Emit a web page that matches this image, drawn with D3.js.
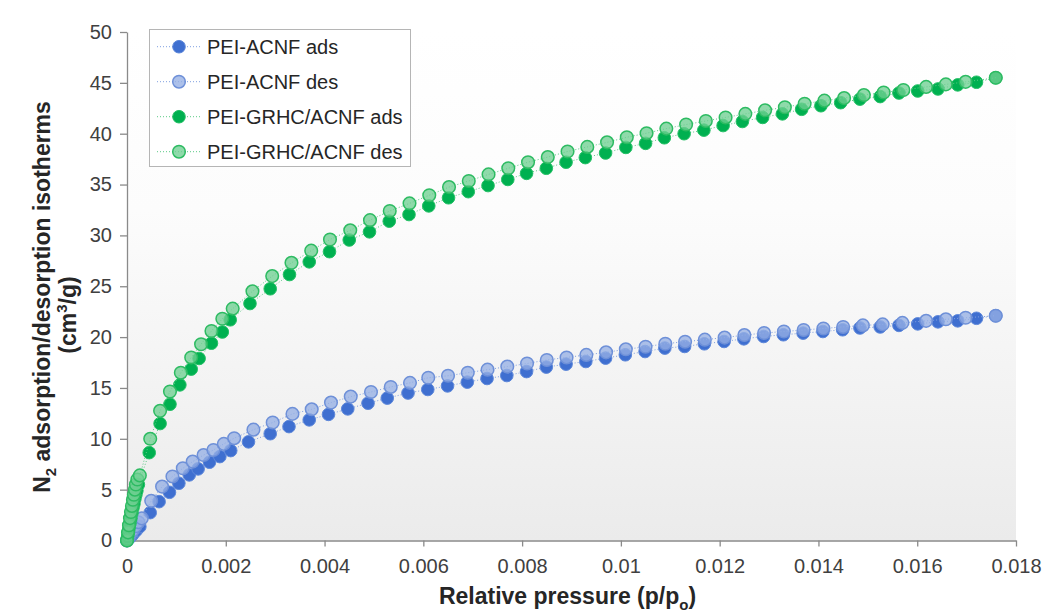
<!DOCTYPE html>
<html>
<head>
<meta charset="utf-8">
<script src="https://cdn.jsdelivr.net/npm/d3@7"></script>
<style>
  body { margin: 0; background: #fff; }
  svg { font-family: "Liberation Sans", Arial, sans-serif; }
</style>
</head>
<body>
<div id="chart"></div>
<script>
// values
const blueAdsP = [0, 0.00003, 0.00006, 0.0001, 0.00014, 0.00019, 0.00026, 0.00047, 0.00065, 0.00086, 0.00105, 0.00126, 0.00144, 0.00167, 0.00188, 0.0021, 0.00246, 0.0029, 0.00328, 0.00369, 0.00408, 0.00447, 0.00488, 0.00527, 0.00569, 0.00609, 0.00649, 0.00689, 0.00729, 0.00769, 0.00809, 0.00849, 0.00889, 0.00929, 0.00969, 0.01009, 0.01049, 0.01089, 0.01129, 0.01169, 0.01209, 0.01249, 0.01289, 0.01329, 0.01369, 0.01409, 0.01449, 0.01484, 0.01525, 0.01563, 0.01601, 0.01642, 0.01682, 0.0172, 0.01759]
const blueAdsV = [0, 0.15, 0.3, 0.5, 0.75, 1.0, 1.36, 2.74, 3.82, 4.74, 5.63, 6.45, 7.04, 7.7, 8.25, 8.84, 9.7, 10.5, 11.2, 11.86, 12.4, 12.94, 13.5, 14.0, 14.5, 14.85, 15.2, 15.57, 15.93, 16.22, 16.61, 17.05, 17.34, 17.6, 17.93, 18.26, 18.58, 18.92, 19.08, 19.34, 19.57, 19.83, 20.06, 20.23, 20.39, 20.55, 20.72, 20.9, 21.0, 21.15, 21.3, 21.5, 21.6, 21.85, 22.1]

const blueDesP = [0, 0.00004, 0.00008, 0.00012, 0.00017, 0.00023, 0.0003, 0.00049, 0.00071, 0.00092, 0.00113, 0.00133, 0.00155, 0.00175, 0.00196, 0.00217, 0.00256, 0.00295, 0.00335, 0.00374, 0.00413, 0.00453, 0.00494, 0.00534, 0.00573, 0.0061, 0.0065, 0.0069, 0.0073, 0.0077, 0.0081, 0.0085, 0.0089, 0.0093, 0.0097, 0.0101, 0.0105, 0.0109, 0.0113, 0.0117, 0.0121, 0.0125, 0.0129, 0.0133, 0.0137, 0.0141, 0.0145, 0.0149, 0.0153, 0.0157, 0.01618, 0.01658, 0.01698, 0.01759]
const blueDesV = [0, 0.35, 0.7, 1.0, 1.4, 1.8, 2.18, 3.9, 5.3, 6.3, 7.1, 7.76, 8.4, 8.9, 9.5, 10.06, 10.9, 11.6, 12.45, 12.9, 13.56, 14.15, 14.6, 15.1, 15.5, 16.0, 16.2, 16.5, 16.8, 17.1, 17.4, 17.75, 18.0, 18.25, 18.5, 18.8, 19.05, 19.35, 19.55, 19.75, 19.95, 20.2, 20.4, 20.55, 20.7, 20.85, 21.0, 21.15, 21.25, 21.4, 21.6, 21.75, 21.9, 22.1]

const greenAdsP = [0, 0.00001, 0.00002, 0.00003, 0.00004, 0.00006, 0.00008, 0.0001, 0.00012, 0.00014, 0.00016, 0.00018, 0.0002, 0.00023, 0.00045, 0.00067, 0.00087, 0.00107, 0.0013, 0.00146, 0.00171, 0.00193, 0.00209, 0.00249, 0.0029, 0.00329, 0.00369, 0.0041, 0.0045, 0.00491, 0.00531, 0.00571, 0.00611, 0.00651, 0.00691, 0.00731, 0.00771, 0.00809, 0.00849, 0.00889, 0.00928, 0.00969, 0.0101, 0.0105, 0.01088, 0.01128, 0.01168, 0.01207, 0.01246, 0.01287, 0.01327, 0.01366, 0.01405, 0.01445, 0.01484, 0.01525, 0.01563, 0.01601, 0.01642, 0.01682, 0.0172, 0.01759]
const greenAdsV = [0, 0.3, 0.6, 0.9, 1.2, 1.7, 2.2, 2.7, 3.2, 3.6, 4.1, 4.5, 4.9, 5.5, 8.64, 11.5, 13.4, 15.3, 16.85, 17.9, 19.4, 20.5, 21.7, 23.3, 24.75, 26.15, 27.4, 28.4, 29.55, 30.35, 31.4, 32.05, 32.9, 33.7, 34.3, 34.9, 35.5, 36.1, 36.6, 37.2, 37.65, 38.1, 38.65, 39.05, 39.6, 40.0, 40.35, 40.8, 41.2, 41.6, 41.95, 42.4, 42.75, 43.05, 43.4, 43.65, 44.0, 44.2, 44.4, 44.8, 45.06, 45.5]

const greenDesP = [0, 0.00002, 0.00004, 0.00006, 0.00008, 0.0001, 0.00012, 0.00014, 0.00016, 0.00018, 0.00021, 0.00026, 0.00047, 0.00067, 0.00087, 0.00109, 0.0013, 0.0015, 0.00171, 0.00193, 0.00214, 0.00254, 0.00294, 0.00333, 0.00373, 0.00411, 0.00452, 0.00492, 0.00532, 0.00572, 0.00612, 0.00652, 0.00692, 0.00732, 0.00772, 0.00812, 0.00852, 0.00892, 0.00932, 0.00972, 0.01012, 0.01052, 0.01092, 0.01132, 0.01172, 0.01212, 0.01252, 0.01292, 0.01332, 0.01372, 0.01412, 0.01452, 0.01492, 0.01532, 0.01572, 0.01618, 0.01658, 0.01698, 0.01759]
const greenDesV = [0, 0.8, 1.5, 2.2, 2.8, 3.4, 4.0, 4.5, 5.0, 5.5, 6.0, 6.4, 10.0, 12.75, 14.65, 16.5, 18.0, 19.3, 20.6, 21.8, 22.8, 24.5, 26.0, 27.3, 28.5, 29.6, 30.5, 31.5, 32.4, 33.15, 33.95, 34.75, 35.35, 36.0, 36.6, 37.2, 37.7, 38.25, 38.7, 39.15, 39.65, 40.05, 40.5, 40.9, 41.25, 41.6, 41.95, 42.3, 42.6, 42.95, 43.25, 43.5, 43.8, 44.05, 44.3, 44.6, 44.85, 45.1, 45.5]

const seriesNames = ["PEI-ACNF ads", "PEI-ACNF des", "PEI-GRHC/ACNF ads", "PEI-GRHC/ACNF des"]

const xTicks = [0, 0.002, 0.004, 0.006, 0.008, 0.01, 0.012, 0.014, 0.016, 0.018]
const xTickLabels = ["0", "0.002", "0.004", "0.006", "0.008", "0.01", "0.012", "0.014", "0.016", "0.018"]
const yTicks = [0, 5, 10, 15, 20, 25, 30, 35, 40, 45, 50]

// styles for each series (Excel-like)
const styles = [
    { fill: "#3F6FD0", stroke: "#5E88DA", sw: 1, line: "#7F9FE0" },
    { fill: "rgba(150,176,228,0.78)", stroke: "#6E90D8", sw: 1.5, line: "#7F9FE0" },
    { fill: "#00B050", stroke: "#25C066", sw: 1, line: "#5CCB86" },
    { fill: "rgba(112,208,146,0.78)", stroke: "#2DBB62", sw: 1.5, line: "#5CCB86" }
]

const series = [
    blueAdsP.map((p, i) => ({ p: p, v: blueAdsV[i] })),
    blueDesP.map((p, i) => ({ p: p, v: blueDesV[i] })),
    greenAdsP.map((p, i) => ({ p: p, v: greenAdsV[i] })),
    greenDesP.map((p, i) => ({ p: p, v: greenDesV[i] }))
]

const W = 1049, H = 615
const plot = { left: 127, right: 1016, top: 32, bottom: 540.5 }

const svg = d3.select("#chart").append("svg").attr("width", W).attr("height", H)

const x = d3.scaleLinear().domain([0, 0.018]).range([plot.left, plot.right])
const y = d3.scaleLinear().domain([0, 50]).range([plot.bottom, plot.top])

// plot area background gradient
const defs = svg.append("defs")
const grad = defs.append("linearGradient").attr("id", "bg").attr("x1", 0).attr("y1", 0).attr("x2", 0).attr("y2", 1)
grad.append("stop").attr("offset", "0%").attr("stop-color", "#ffffff")
grad.append("stop").attr("offset", "35%").attr("stop-color", "#fcfcfc")
grad.append("stop").attr("offset", "100%").attr("stop-color", "#ebebeb")

svg.append("rect")
    .attr("x", plot.left).attr("y", plot.top)
    .attr("width", plot.right - plot.left).attr("height", plot.bottom - plot.top)
    .attr("fill", "url(#bg)")

// axes
const xAxis = svg.append("g")
    .attr("transform", `translate(0,${plot.bottom})`)
    .call(d3.axisBottom(x).tickValues(xTicks).tickFormat((d, i) => xTickLabels[i]).tickSizeInner(6).tickSizeOuter(0).tickPadding(12))
const yAxis = svg.append("g")
    .attr("transform", `translate(${plot.left},0)`)
    .call(d3.axisLeft(y).tickValues(yTicks).tickSizeInner(7).tickSizeOuter(0).tickPadding(8))

;[xAxis, yAxis].forEach(g => {
    g.select(".domain").attr("stroke", "#8a8a8a").attr("stroke-width", 1.3)
    g.selectAll(".tick line").attr("stroke", "#8a8a8a").attr("stroke-width", 1.3)
    g.selectAll(".tick text").attr("fill", "#404040").style("font-size", "20px").attr("font-family", null)
})

// series: dotted connecting lines then markers, in Excel series order
const line = d3.line().x(d => x(d.p)).y(d => y(d.v))
series.forEach((data, k) => {
    const st = styles[k]
    const g = svg.append("g")
    g.append("path")
        .datum(data)
        .attr("d", line)
        .attr("fill", "none")
        .attr("stroke", st.line)
        .attr("stroke-width", 1)
        .attr("stroke-dasharray", "1,2")
    g.selectAll("circle")
        .data(data)
        .enter()
        .append("circle")
        .attr("cx", d => x(d.p))
        .attr("cy", d => y(d.v))
        .attr("r", 6.3)
        .attr("fill", st.fill)
        .attr("stroke", st.stroke)
        .attr("stroke-width", st.sw)
})

// legend
const legend = svg.append("g")
legend.append("rect")
    .attr("x", 149.5).attr("y", 29.5).attr("width", 261).attr("height", 137)
    .attr("fill", "#fff").attr("stroke", "#b5b5b5").attr("stroke-width", 1)
seriesNames.forEach((name, k) => {
    const st = styles[k]
    const cy = 46.7 + k * 35
    legend.append("line")
        .attr("x1", 157).attr("x2", 201).attr("y1", cy).attr("y2", cy)
        .attr("stroke", st.line).attr("stroke-width", 1).attr("stroke-dasharray", "1,2")
    legend.append("circle")
        .attr("cx", 179).attr("cy", cy).attr("r", 6.3)
        .attr("fill", st.fill).attr("stroke", st.stroke).attr("stroke-width", st.sw)
    legend.append("text")
        .attr("x", 207).attr("y", cy + 7)
        .attr("font-size", 20).attr("fill", "#262626")
        .text(name)
})

// axis titles
const xTitle = svg.append("text")
    .attr("x", (plot.left + plot.right) / 2 - 4).attr("y", 604)
    .attr("text-anchor", "middle").attr("font-size", 23).attr("font-weight", "bold").attr("fill", "#262626")
xTitle.append("tspan").text("Relative pressure (p/p")
xTitle.append("tspan").attr("font-size", 15).attr("dy", 6).text("o")
xTitle.append("tspan").attr("dy", -6).text(")")

const yTitle1 = svg.append("text")
    .attr("transform", "translate(50,297) rotate(-90)")
    .attr("text-anchor", "middle").attr("font-size", 23).attr("font-weight", "bold").attr("fill", "#262626")
yTitle1.append("tspan").text("N")
yTitle1.append("tspan").attr("font-size", 15).attr("dy", 6).text("2")
yTitle1.append("tspan").attr("dy", -6).text(" adsorption/desorption isotherms")

const yTitle2 = svg.append("text")
    .attr("transform", "translate(76,315) rotate(-90)")
    .attr("text-anchor", "middle").attr("font-size", 23).attr("font-weight", "bold").attr("fill", "#262626")
yTitle2.append("tspan").text("(cm")
yTitle2.append("tspan").attr("font-size", 15).attr("dy", -9).text("3")
yTitle2.append("tspan").attr("dy", 9).text("/g)")
</script>
</body>
</html>
